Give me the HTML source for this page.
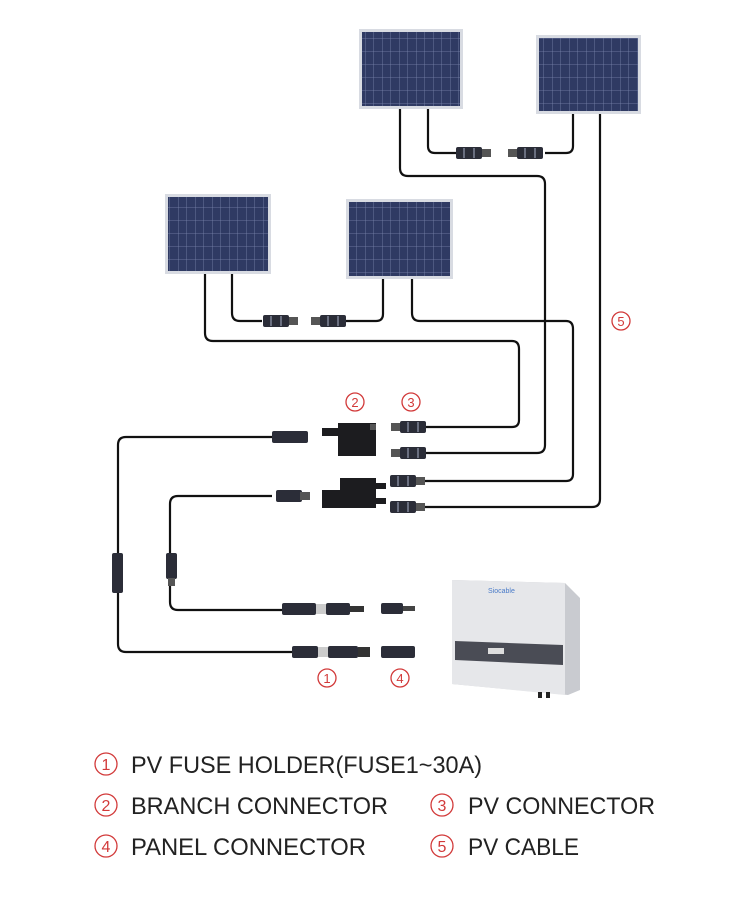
<!DOCTYPE html>
<html><head><meta charset="utf-8"><style>
html,body{margin:0;padding:0;background:#fff;}
svg{display:block;}
text{font-family:"Liberation Sans",sans-serif;}
</style></head><body>
<svg width="750" height="907" viewBox="0 0 750 907" xmlns="http://www.w3.org/2000/svg">
<defs>
<pattern id="cell" width="8.5" height="13" patternUnits="userSpaceOnUse">
<rect width="8.5" height="13" fill="#2f3a63"/>
<path d="M8.5 0V13M0 13H8.5" stroke="#7a86ad" stroke-width="0.8"/>
</pattern>
<g id="conn">
<rect x="0" y="-4" width="10" height="8" fill="#555"/>
<rect x="9" y="-6" width="26" height="12" rx="2" fill="#2b2d38"/>
<rect x="16" y="-5" width="2" height="10" fill="#6a6f80"/>
<rect x="26" y="-5" width="2" height="10" fill="#6a6f80"/>
</g>
</defs>

<g>
<rect x="359" y="29" width="104" height="80" fill="#d8dbe2"/><rect x="362" y="32" width="98" height="74" fill="url(#cell)"/>
<rect x="536" y="35" width="105" height="79" fill="#d8dbe2"/><rect x="539" y="38" width="99" height="73" fill="url(#cell)"/>
<rect x="165" y="194" width="106" height="80" fill="#d8dbe2"/><rect x="168" y="197" width="100" height="74" fill="url(#cell)"/>
<rect x="346" y="199" width="107" height="80" fill="#d8dbe2"/><rect x="349" y="202" width="101" height="74" fill="url(#cell)"/>
</g>

<g fill="none" stroke="#111" stroke-width="2.2" stroke-linejoin="round">
<path d="M400 109 V168 Q400 176 408 176 H537 Q545 176 545 184 V445 Q545 453 537 453 H420"/>
<path d="M428 109 V146 Q428 153 435 153 H456"/>
<path d="M545 153 H566 Q573 153 573 146 V114"/>
<path d="M600 114 V499 Q600 507 592 507 H420"/>
<path d="M205 274 V333 Q205 341 213 341 H512 Q519 341 519 349 V420 Q519 427 512 427 H420"/>
<path d="M232 274 V313 Q232 321 240 321 H262"/>
<path d="M346 321 H376 Q383 321 383 314 V279"/>
<path d="M412 279 V313 Q412 321 420 321 H566 Q573 321 573 329 V474 Q573 481 566 481 H420"/>
<path d="M272 437 H126 Q118 437 118 445 V644 Q118 652 126 652 H292"/>
<path d="M272 496 H178 Q170 496 170 504 V602 Q170 610 178 610 H282"/>
</g>

<use href="#conn" transform="translate(491 153) scale(-1 1)"/>
<use href="#conn" transform="translate(508 153)"/>
<use href="#conn" transform="translate(298 321) scale(-1 1)"/>
<use href="#conn" transform="translate(311 321)"/>
<use href="#conn" transform="translate(391 427)"/>
<use href="#conn" transform="translate(391 453)"/>
<use href="#conn" transform="translate(425 481) scale(-1 1)"/>
<use href="#conn" transform="translate(425 507) scale(-1 1)"/>
<rect x="272" y="431" width="36" height="12" rx="2" fill="#2b2d38"/>
<rect x="276" y="490" width="26" height="12" rx="2" fill="#2b2d38"/><rect x="300" y="492" width="10" height="8" fill="#555"/>
<g fill="#1c1c1f">
<rect x="322" y="428" width="20" height="8"/>
<rect x="338" y="423" width="38" height="33"/>
<rect x="370" y="424" width="6" height="6" fill="#555"/>
<rect x="340" y="478" width="36" height="30"/>
<rect x="322" y="490" width="20" height="18"/>
<rect x="374" y="483" width="12" height="6"/>
<rect x="374" y="498" width="12" height="6"/>
</g>
<rect x="112" y="553" width="11" height="40" rx="2" fill="#2b2d38"/>
<rect x="166" y="553" width="11" height="26" rx="2" fill="#2b2d38"/><rect x="168" y="578" width="7" height="8" fill="#555"/>
<g>
<rect x="282" y="603" width="34" height="12" rx="2" fill="#2b2d38"/>
<rect x="316" y="604" width="10" height="10" fill="#ccc"/>
<rect x="326" y="603" width="24" height="12" rx="2" fill="#2b2d38"/>
<rect x="350" y="606" width="14" height="6" fill="#333"/>
<rect x="292" y="646" width="26" height="12" rx="2" fill="#2b2d38"/>
<rect x="318" y="647" width="10" height="10" fill="#ccc"/>
<rect x="328" y="646" width="30" height="12" rx="2" fill="#2b2d38"/>
<rect x="358" y="647" width="12" height="10" fill="#333"/>
</g>
<rect x="381" y="603" width="22" height="11" rx="2" fill="#2b2d38"/><rect x="403" y="606" width="12" height="5" fill="#444"/>
<rect x="381" y="646" width="34" height="12" rx="2" fill="#2b2d38"/>

<g>
<path d="M452 580 L565 583 L580 598 L580 690 L568 695 L452 684 Z" fill="#c9cbd0"/>
<path d="M452 580 L565 583 L565 695 L452 684 Z" fill="#e6e7ea"/>
<path d="M455 641 L563 645 L563 665 L455 660 Z" fill="#4a4c55"/>
<rect x="488" y="648" width="16" height="6" fill="#ddd"/>
<text x="488" y="593" font-size="7" fill="#4a7bc8">Siocable</text>
<rect x="538" y="692" width="4" height="6" fill="#222"/><rect x="546" y="692" width="4" height="6" fill="#222"/>
</g>

<!-- red number labels -->
<g fill="none" stroke="#d23a3a" stroke-width="1.3">
<circle cx="355" cy="402" r="9"/><circle cx="411" cy="402" r="9"/><circle cx="621" cy="321" r="9"/>
<circle cx="327" cy="678" r="9"/><circle cx="400" cy="678" r="9"/>
<circle cx="106" cy="764" r="11"/><circle cx="106" cy="805" r="11"/><circle cx="106" cy="846" r="11"/>
<circle cx="442" cy="805" r="11"/><circle cx="442" cy="846" r="11"/>
</g>
<g fill="#d23a3a" font-size="13" text-anchor="middle">
<text x="355" y="407">2</text><text x="411" y="407">3</text><text x="621" y="326">5</text>
<text x="327" y="683">1</text><text x="400" y="683">4</text>
</g>
<g fill="#d23a3a" font-size="16" text-anchor="middle">
<text x="106" y="770">1</text><text x="106" y="811">2</text><text x="106" y="852">4</text>
<text x="442" y="811">3</text><text x="442" y="852">5</text>
</g>

<g font-size="24" fill="#222">
<text x="131" y="773" textLength="351" lengthAdjust="spacingAndGlyphs">PV FUSE HOLDER(FUSE1~30A)</text>
<text x="131" y="814" textLength="257" lengthAdjust="spacingAndGlyphs">BRANCH CONNECTOR</text>
<text x="468" y="814" textLength="187" lengthAdjust="spacingAndGlyphs">PV CONNECTOR</text>
<text x="131" y="855" textLength="235" lengthAdjust="spacingAndGlyphs">PANEL CONNECTOR</text>
<text x="468" y="855" textLength="111" lengthAdjust="spacingAndGlyphs">PV CABLE</text>
</g>
</svg>
</body></html>
